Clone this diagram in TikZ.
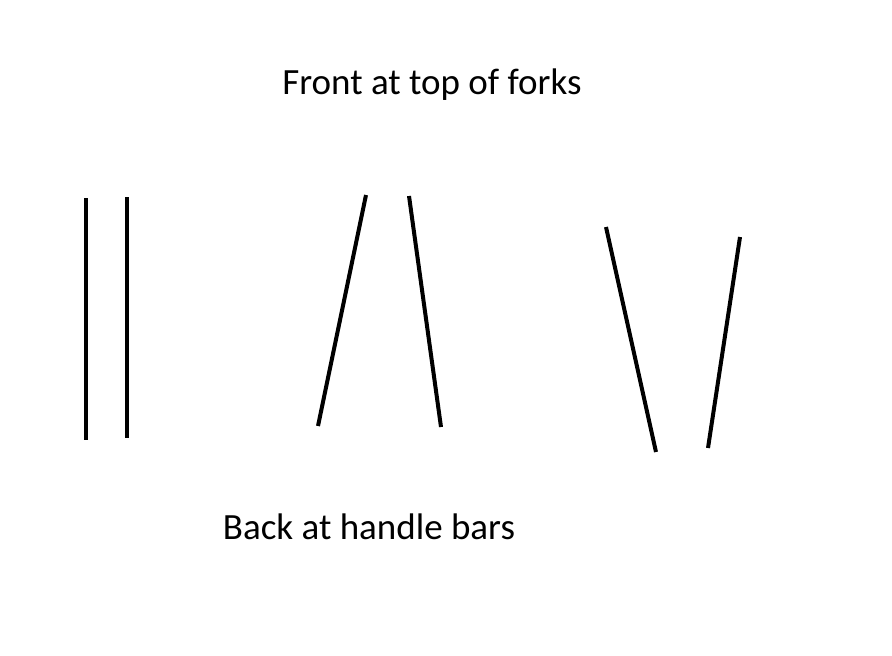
\documentclass[tikz,border=0pt]{standalone}
\usepackage{fontspec}
\setmainfont{Carlito}
\usepackage{tikz}

\begin{document}
\begin{tikzpicture}[x=1pt,y=-1pt,fork/.style={line width=4pt}]
\useasboundingbox (0,0) rectangle (892,656);
\node[font=\fontsize{37}{44}\selectfont] (front) at (432,85) {Front at top of forks};
% straight forks
\draw[fork] (86,198) -- (86,440);
\draw[fork] (127,197) -- (127,438);
% forks closer at the front
\draw[fork] (366,195) -- (318,426);
\draw[fork] (409,196) -- (441,427);
% forks closer at the back
\draw[fork] (606,227) -- (656,452);
\draw[fork] (740,237) -- (708,448);
\node[font=\fontsize{37}{44}\selectfont] (back) at (369,527) {Back at handle bars};
\end{tikzpicture}
\end{document}
